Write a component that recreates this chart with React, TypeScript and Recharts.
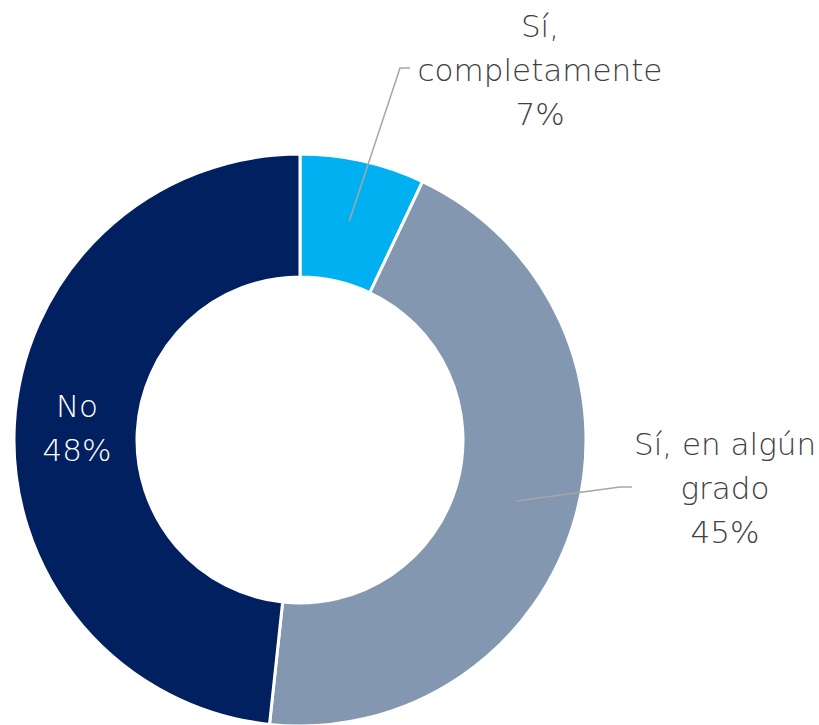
import { PieChart, Pie, Cell } from "recharts";

const categories = ["Sí, completamente", "Sí, en algún grado", "No"];
const shares = [7.05, 44.65, 48.3];
const sliceColors = ["#00B0F0", "#8497B0", "#002060"];
const labelLines = [["Sí,", "completamente", "7%"], ["Sí, en algún", "grado", "45%"], ["No", "48%"]];

const data = categories.map((name, i) => ({ name, value: shares[i] }));

// where each label sits (text centre x, first baseline y) and optional leader elbow
const labelLayout = [
  { x: 540, y: 37, elbow: [400, 68], end: [410, 68], color: "#404040" },
  { x: 725, y: 455, elbow: [620, 487], end: [632, 487], color: "#404040" },
  { x: 77, y: 417, elbow: null, end: null, color: "#ffffff" },
];

const RADIAN = Math.PI / 180;

const renderLabel = (props: any) => {
  const { cx, cy, midAngle, innerRadius, outerRadius, index } = props;
  const lay = labelLayout[index];
  const r = (innerRadius + outerRadius) / 2;
  const sx = cx + r * Math.cos(-midAngle * RADIAN);
  const sy = cy + r * Math.sin(-midAngle * RADIAN);
  return (
    <g key={`lbl-${index}`}>
      {lay.elbow && (
        <polyline
          points={`${sx},${sy} ${lay.elbow[0]},${lay.elbow[1]} ${lay.end[0]},${lay.end[1]}`}
          fill="none"
          stroke="#A6A6A6"
          strokeWidth={1.5}
        />
      )}
      <text
        x={lay.x}
        y={lay.y}
        textAnchor="middle"
        fill={lay.color}
        fontFamily="'DejaVu Sans', sans-serif"
        fontWeight={200}
        fontSize={31}
      >
        {labelLines[index].map((t, j) => (
          <tspan key={j} x={lay.x} dy={j === 0 ? 0 : 44}>
            {t}
          </tspan>
        ))}
      </text>
    </g>
  );
};

export default function App() {
  return (
    <div style={{ position: "absolute", left: 0, top: 0, background: "#fff" }}>
      <PieChart width={819} height={725} margin={{ top: 0, right: 0, bottom: 0, left: 0 }}>
        <Pie
          data={data}
          dataKey="value"
          nameKey="name"
          cx={300}
          cy={440}
          innerRadius={163}
          outerRadius={286}
          startAngle={90}
          endAngle={-270}
          stroke="#ffffff"
          strokeWidth={3}
          label={renderLabel}
          labelLine={false}
          isAnimationActive={false}
        >
          {data.map((d, i) => (
            <Cell key={d.name} fill={sliceColors[i]} />
          ))}
        </Pie>
      </PieChart>
    </div>
  );
}
